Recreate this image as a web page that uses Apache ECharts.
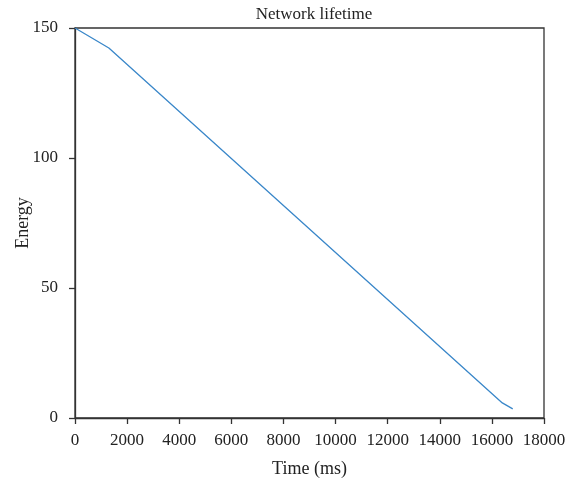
<!DOCTYPE html>
<html><head><meta charset="utf-8">
<script src="https://cdn.jsdelivr.net/npm/echarts@6/dist/echarts.min.js"></script>
<style>html,body{margin:0;padding:0;background:#fff}#c{width:578px;height:481px}</style>
</head><body><div id="c"></div>
<script>
const timeMs = [0, 1300, 16400, 16800];
const energy = [150, 142.3, 5.8, 3.5];
const xTicks = [0, 2000, 4000, 6000, 8000, 10000, 12000, 14000, 16000, 18000];
const yTicks = [0, 50, 100, 150];

const font = 'Liberation Serif, DejaVu Serif, serif';
const chart = echarts.init(document.getElementById('c'), null, {renderer: 'canvas'});
chart.setOption({
  animation: false,
  title: {text: 'Network lifetime', left: 309, textAlign: 'center', top: 1,
    textStyle: {fontFamily: font, fontWeight: 'normal', fontSize: 17, color: '#222'}},
  grid: {left: 75, right: 34, top: 28, bottom: 63, containLabel: false, outerBoundsMode: 'none',
    show: true, borderColor: '#333', borderWidth: 1.3, backgroundColor: 'transparent'},
  xAxis: {type: 'value', min: xTicks[0], max: xTicks[xTicks.length - 1], interval: 2000,
    name: 'Time (ms)', nameLocation: 'middle', nameGap: 42, nameMoveOverlap: false,
    nameTextStyle: {fontFamily: font, fontSize: 18, color: '#222'},
    axisLine: {show: true, lineStyle: {color: '#333', width: 1.3}},
    axisTick: {show: true, length: 6, lineStyle: {color: '#333', width: 1.3}},
    axisLabel: {fontFamily: font, fontSize: 17, color: '#222', margin: 14, formatter: v => String(v)},
    splitLine: {show: false}},
  yAxis: {type: 'value', min: yTicks[0], max: yTicks[yTicks.length - 1], interval: 50,
    name: 'Energy', nameLocation: 'middle', nameGap: 43, nameMoveOverlap: false,
    nameTextStyle: {fontFamily: font, fontSize: 18, color: '#222'},
    axisLine: {show: true, lineStyle: {color: '#333', width: 1.3}},
    axisTick: {show: true, length: 6, lineStyle: {color: '#333', width: 1.3}},
    axisLabel: {fontFamily: font, fontSize: 17, color: '#222', margin: 17, formatter: v => String(v)},
    splitLine: {show: false}},
  series: [{type: 'line', data: timeMs.map((t, i) => [t, energy[i]]),
    showSymbol: false, symbol: 'none', lineStyle: {color: '#3a87c9', width: 1.3}}]
});
</script></body></html>
